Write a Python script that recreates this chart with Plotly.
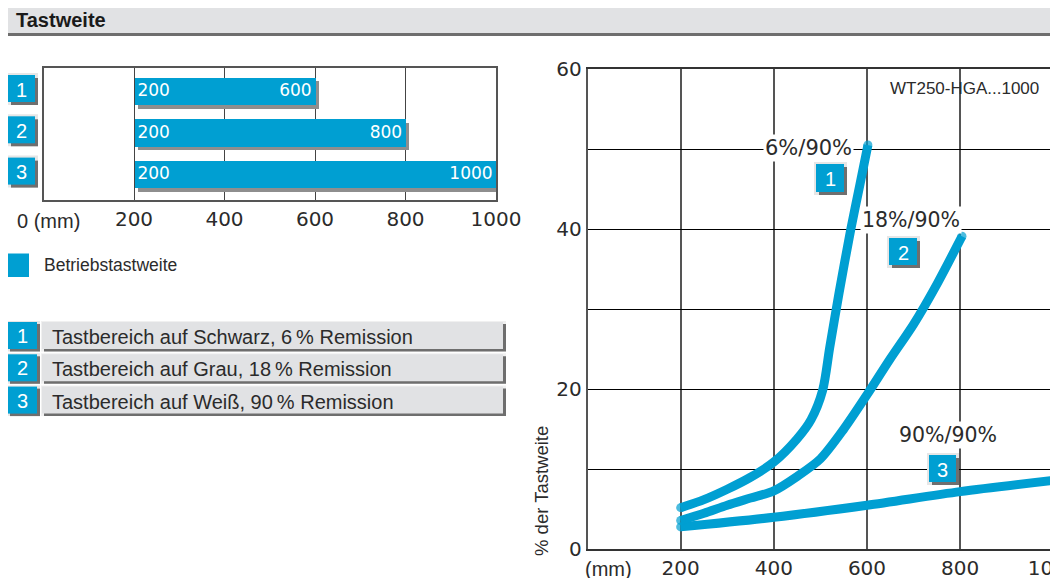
import plotly.graph_objects as go

W, H = 1058, 578
OFF = 8  # Seitenrand des Browsers
BLUE = '#009fd2'
TXT = '#2b2b2b'

# Balken links: Betriebstastweite je Zeile
ROWS = [1, 2, 3]
BAR_START = [200, 200, 200]
BAR_END = [600, 800, 1000]

# Kurven rechts (mm, % der Tastweite)
C1_X = [200, 250, 300, 350, 400, 450, 480, 505, 520, 540, 565, 585, 602]
C1_Y = [5.2, 6.2, 7.5, 9.0, 10.9, 13.8, 16.2, 19.9, 25.2, 32.0, 39.9, 45.6, 50.5]
C2_X = [200, 250, 300, 350, 400, 450, 500, 550, 600, 650, 700, 750, 804]
C2_Y = [3.6, 4.5, 5.5, 6.4, 7.3, 9.1, 11.3, 15.0, 19.3, 23.8, 28.1, 33.1, 39.1]
C3_X = [200, 400, 600, 800, 1000]
C3_Y = [2.8, 4.0, 5.5, 7.2, 8.6]

LEGEND_TEXT = ['Tastbereich auf Schwarz, 6\u2009% Remission',
               'Tastbereich auf Grau, 18\u2009% Remission',
               'Tastbereich auf Weiß, 90\u2009% Remission']


def fx(p):
    return (p - OFF) / W


def fy(p):
    return 1 - (p - OFF) / H


shapes = []
annotations = []


def rect(x0, y0, x1, y1, color, layer='above'):
    shapes.append(dict(type='rect', xref='paper', yref='paper',
                       x0=fx(x0), x1=fx(x1), y0=fy(y1), y1=fy(y0),
                       fillcolor=color, line=dict(width=0), layer=layer))


def text(x, y, s, size=20, color=TXT, family='Liberation Sans', xanchor='center', **kw):
    annotations.append(dict(xref='paper', yref='paper', x=fx(x), y=fy(y), text=s,
                            showarrow=False, xanchor=xanchor, yanchor='middle',
                            font=dict(family=family, size=size, color=color), **kw))


def badge(x0, y0, x1, y1, num):
    rect(x0 - 2, y0 - 2, x1 + 3, y1 + 3, '#e6e6e6')
    rect(x0 + 3, y0 + 3, x1 + 3, y1 + 3, '#6f6f6f')
    rect(x0, y0, x1, y1, BLUE)
    text((x0 + x1) / 2, (y0 + y1) / 2 + 1, num, size=20, color='white')


fig = go.Figure()

# --- linkes Balkendiagramm ---
fig.add_trace(go.Bar(y=[r + 0.085 for r in ROWS], x=[e - s for s, e in zip(BAR_START, BAR_END)],
                     base=[s + 7.7 for s in BAR_START], orientation='h', width=0.666,
                     marker=dict(color='#8e8e8e', line=dict(width=0)),
                     xaxis='x', yaxis='y', hoverinfo='skip', showlegend=False))
fig.add_trace(go.Bar(y=ROWS, x=[e - s for s, e in zip(BAR_START, BAR_END)], base=BAR_START,
                     orientation='h', width=0.666, marker=dict(color=BLUE, line=dict(width=0)),
                     xaxis='x', yaxis='y', showlegend=False))
fig.add_trace(go.Scatter(x=BAR_START, y=ROWS, mode='text', text=[f'\u2009{v}' for v in BAR_START],
                         textposition='middle right',
                         textfont=dict(family='DejaVu Sans', size=17, color='white'),
                         xaxis='x', yaxis='y', showlegend=False))
fig.add_trace(go.Scatter(x=BAR_END, y=ROWS, mode='text', text=[f'{v}\u2009' for v in BAR_END],
                         textposition='middle left',
                         textfont=dict(family='DejaVu Sans', size=17, color='white'),
                         xaxis='x', yaxis='y', showlegend=False))

# --- rechte Kurven ---
for cx, cy in [(C3_X, C3_Y), (C2_X, C2_Y), (C1_X, C1_Y)]:
    n = len(cx)
    fig.add_trace(go.Scatter(x=cx, y=cy, mode='lines+markers',
                             line=dict(color=BLUE, width=9, shape='spline', smoothing=0.8),
                             marker=dict(color=BLUE, size=[9] + [0] * (n - 2) + [9],
                                         line=dict(width=0)),
                             xaxis='x2', yaxis='y2', showlegend=False))

# Kopfzeile
rect(7, 4, 1070, 34, '#e1e2e4')
rect(7, 4, 1070, 6, '#eeeeef')
rect(7, 33, 1070, 36, '#6e6e6e')
text(14, 20, '<b>Tastweite</b>', size=20, color='#1a1a1a', xanchor='left')

# Nummern links neben den Balken
for i, r in enumerate(ROWS):
    y0 = 75 + i * 41.3
    badge(8, y0, 35, y0 + 27, str(r))

# Legende
rect(6, 253.5, 29, 277, BLUE)
text(42, 265, 'Betriebstastweite', size=17.5, xanchor='left')

for i, s in enumerate(LEGEND_TEXT):
    y0 = 322 + i * 32.3
    rect(41, y0 - 1, 506, y0 + 29.5, '#f0f0f0')
    rect(44, y0 + 2, 506, y0 + 29.5, '#6e6e6e')
    rect(42, y0, 503, y0 + 27, '#e1e2e4')
    rect(5, y0 - 1, 40, y0 + 29.5, '#e6e6e6')
    rect(10, y0 + 2, 40, y0 + 29.5, '#6f6f6f')
    rect(7, y0, 37, y0 + 27, BLUE)
    text(22, y0 + 14, str(i + 1), size=20, color='white')
    text(50, y0 + 15, s, size=20, xanchor='left')

# Beschriftungen im rechten Diagramm
text(1041, 88, 'WT250-HGA...1000', size=17, xanchor='right')
text(808, 148, '6%/90%', size=21, family='DejaVu Sans', bgcolor='white', borderpad=1)
badge(816, 164, 844, 192, '1')
text(911, 220, '18%/90%', size=20.5, family='DejaVu Sans', bgcolor='white', borderpad=1)
badge(889, 238, 917, 265, '2')
text(948, 435, '90%/90%', size=20.5, family='DejaVu Sans', bgcolor='white', borderpad=1)
badge(929, 455, 956, 482, '3')

# Achsentexte
text(541, 491, '% der Tastweite', size=18.5, textangle=-90)
text(608, 569, '(mm)', size=20)
text(48, 221, '0 (mm)', size=20)

tickfont = dict(family='DejaVu Sans', size=20, color=TXT)

fig.update_layout(
    width=W, height=H, margin=dict(l=0, r=0, t=0, b=0, autoexpand=False),
    paper_bgcolor='white', plot_bgcolor='white',
    barmode='overlay', bargap=0,
    xaxis=dict(domain=[fx(43.5), fx(496)], range=[0, 1000], anchor='y', automargin=False,
               tickvals=[200, 400, 600, 800, 1000], tickfont=tickfont,
               showgrid=True, gridcolor='#444', gridwidth=1, zeroline=False,
               showline=True, mirror=True, linecolor='#555', linewidth=1.5,
               ticks=''),
    yaxis=dict(domain=[fy(200), fy(68.3)], range=[3.613, 0.426], anchor='x', automargin=False,
               showticklabels=False, showgrid=False, zeroline=False,
               showline=True, mirror=True, linecolor='#555', linewidth=1.5),
    xaxis2=dict(domain=[fx(587.5), fx(1053.3)], range=[0, 1000], anchor='y2', automargin=False,
                tickvals=[200, 400, 600, 800, 1000], tickfont=tickfont,
                ticklabeloverflow='allow',
                showgrid=True, gridcolor='#555', gridwidth=1.5, zeroline=False,
                showline=True, mirror=True, linecolor='#333', linewidth=1.5, ticks=''),
    yaxis2=dict(domain=[fy(549.3), fy(69)], range=[0, 60], anchor='x2', automargin=False,
                tickvals=[0, 10, 20, 30, 40, 50, 60],
                ticktext=['0', '', '20', '', '40', '', '60'], tickfont=tickfont,
                showgrid=True, gridcolor='black', gridwidth=1, zeroline=False,
                showline=True, mirror=True, linecolor='#555', linewidth=1.5, ticks=''),
    shapes=shapes, annotations=annotations,
)

fig.write_html("out.html")
